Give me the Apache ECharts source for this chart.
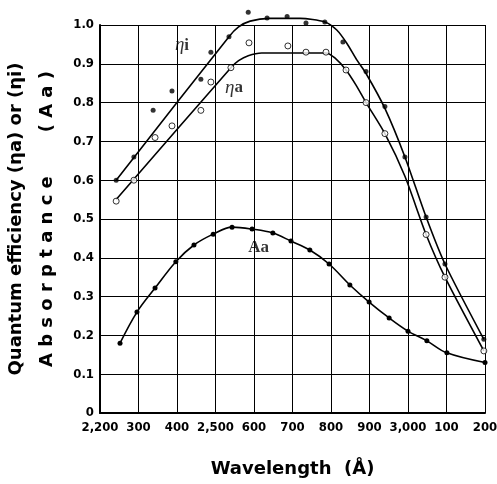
<!DOCTYPE html>
<html><head><meta charset="utf-8">
<script src="https://cdn.jsdelivr.net/npm/echarts@6/dist/echarts.min.js"></script>
<style>html,body{margin:0;padding:0;background:#fff}#c{width:497px;height:484px}</style>
</head><body><div id="c"></div>
<script>
// tick labels
const xTickLabels = {2200:'2,200',2300:'300',2400:'400',2500:'2,500',2600:'600',2700:'700',2800:'800',2900:'900',3000:'3,000',3100:'100',3200:'200'};
// measured points [wavelength Å, value]
const etaiPoints = [[2242,0.60],[2288,0.66],[2338,0.78],[2387,0.83],[2462,0.86],[2488,0.93],[2535,0.97],[2585,1.033],[2634,1.018],[2686,1.022],[2735,1.005],[2784,1.008],[2831,0.956],[2891,0.88],[2940,0.79],[2992,0.66],[3047,0.505],[3096,0.384],[3197,0.19]];
const etaaPoints = [[2242,0.546],[2288,0.60],[2343,0.71],[2387,0.74],[2462,0.78],[2488,0.853],[2540,0.89],[2587,0.954],[2688,0.946],[2735,0.93],[2787,0.93],[2839,0.884],[2891,0.80],[2940,0.72],[3047,0.46],[3096,0.35],[3197,0.16]];
const aaPoints = [[2252,0.18],[2296,0.26],[2343,0.322],[2397,0.39],[2444,0.433],[2494,0.461],[2543,0.479],[2595,0.474],[2649,0.464],[2696,0.443],[2745,0.42],[2795,0.384],[2849,0.33],[2899,0.286],[2951,0.245],[3000,0.211],[3049,0.186],[3101,0.155],[3200,0.13]];
// fitted curves as drawn
const etaiCurve = [[2242,0.60],[2535,0.97],[2560,0.995],[2590,1.01],[2640,1.017],[2720,1.017],[2784,1.008],[2815,0.987],[2841,0.953],[2867,0.91],[2891,0.875],[2940,0.785],[2992,0.66],[3047,0.505],[3096,0.384],[3197,0.19]];
const etaaCurve = [[2242,0.55],[2540,0.89],[2560,0.908],[2585,0.921],[2620,0.928],[2787,0.928],[2810,0.915],[2839,0.884],[2865,0.845],[2891,0.80],[2940,0.72],[2992,0.61],[3047,0.46],[3096,0.35],[3197,0.16]];
// in-chart curve labels: [x, y, symbol part, subscript part]
const curveLabels = [[2413,0.948,'η','i'],[2548,0.838,'η','a'],[2612,0.425,'','Aa']];

const chart = echarts.init(document.getElementById('c'), null, {renderer:'canvas'});
const tickFont = {fontFamily:'DejaVu Sans Condensed, Liberation Sans Narrow, sans-serif', fontSize:13, color:'#000', fontWeight:'bold'};
const serif = 'Liberation Serif, DejaVu Serif, serif';
chart.setOption({
  animation:false,
  backgroundColor:'#fff',
  grid:{left:100,right:12,top:25,bottom:71,containLabel:false,outerBoundsMode:'none'},
  xAxis:{type:'value',min:2200,max:3200,interval:100,
    axisLine:{show:true,lineStyle:{color:'#000',width:2}},
    axisTick:{show:false},
    splitLine:{show:true,lineStyle:{color:'#000',width:1}},
    axisLabel:Object.assign({margin:8,formatter:v=>xTickLabels[v]||''},tickFont),
    name:'Wavelength  (Å)',nameLocation:'middle',nameGap:47,
    nameTextStyle:{fontFamily:'DejaVu Sans',fontWeight:'bold',fontSize:18,color:'#000'}
  },
  yAxis:{type:'value',min:0,max:1.0,interval:0.1,
    axisLine:{show:true,lineStyle:{color:'#000',width:2}},
    axisTick:{show:false},
    splitLine:{show:true,lineStyle:{color:'#000',width:1}},
    axisLabel:Object.assign({margin:6,formatter:v=>v===0?'0':v.toFixed(1)},tickFont),
    name:'Quantum efficiency (ηa) or (ηi)\nA b s o r p t a n c e       ( A a )',
    nameLocation:'middle',nameRotate:90,nameGap:37,
    nameTextStyle:{fontFamily:'DejaVu Sans',fontWeight:'bold',fontSize:18,color:'#000',lineHeight:31,align:'center'}
  },
  series:[
    {type:'line',data:etaiCurve,smooth:0.25,showSymbol:false,symbol:'none',clip:false,lineStyle:{color:'#000',width:1.6}},
    {type:'line',data:etaaCurve,smooth:0.25,showSymbol:false,symbol:'none',clip:false,lineStyle:{color:'#000',width:1.6}},
    {type:'line',data:aaPoints,smooth:0.35,symbol:'circle',symbolSize:5,clip:false,itemStyle:{color:'#000'},lineStyle:{color:'#000',width:1.6}},
    {type:'scatter',data:etaiPoints,symbol:'circle',symbolSize:5,clip:false,itemStyle:{color:'#000'},z:5},
    {type:'scatter',data:etaaPoints,symbol:'circle',symbolSize:6,clip:false,itemStyle:{color:'#fff',borderColor:'#000',borderWidth:1},z:5},
    {type:'scatter',data:curveLabels.map(d=>({value:[d[0],d[1]],g:d[2],s:d[3]})),symbolSize:0,clip:false,
      label:{show:true,position:'inside',
        formatter:p=>(p.data.g?'{g|'+p.data.g+'}':'')+'{s|'+p.data.s+'}',
        rich:{
          g:{fontFamily:serif,fontSize:19,fontStyle:'italic',color:'#000'},
          s:{fontFamily:serif,fontSize:17,fontWeight:'bold',color:'#000'}
        }},z:6}
  ]
});
</script></body></html>
